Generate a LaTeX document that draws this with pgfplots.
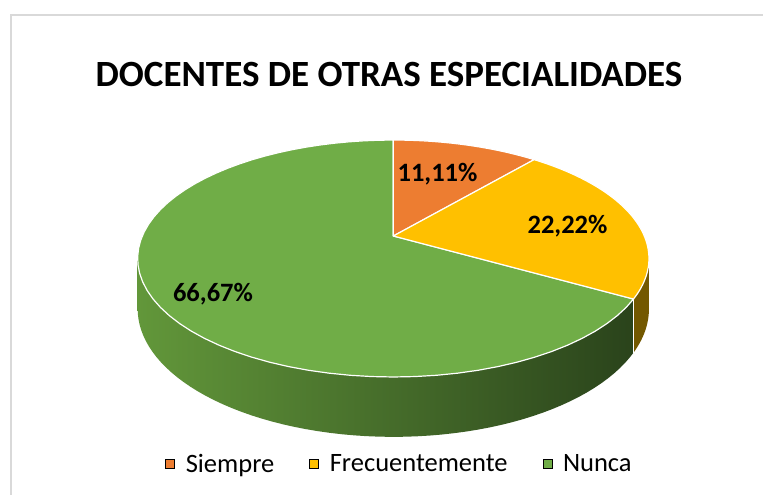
\documentclass[border=0pt]{standalone}
\usepackage{pgfplots}
\pgfplotsset{compat=1.18}
\usepackage{pgfplotstable}
\usepackage{fontspec}
\setmainfont{Carlito}
\definecolor{cOr}{HTML}{ED7D31}
\definecolor{cYe}{HTML}{FFC000}
\definecolor{cGr}{HTML}{70AD47}
\definecolor{cYeS}{HTML}{735800}
\definecolor{cGrL}{HTML}{62973A}
\definecolor{cGrM}{HTML}{466E2C}
\definecolor{cGrD}{HTML}{2A431B}
\definecolor{cFrame}{HTML}{D9D9D9}

\pgfplotstableread{
cat value
Siempre 11.11
Frecuentemente 22.22
Nunca 66.67
}\piedata
\pgfplotstablegetelem{0}{value}\of\piedata \let\vA\pgfplotsretval
\pgfplotstablegetelem{1}{value}\of\piedata \let\vB\pgfplotsretval
\pgfplotstablegetelem{2}{value}\of\piedata \let\vC\pgfplotsretval
\pgfmathsetmacro\aA{0}
\pgfmathsetmacro\aB{3.6*\vA}
\pgfmathsetmacro\aC{3.6*(\vA+\vB)}
\pgfmathsetmacro\aD{3.6*(\vA+\vB+\vC)}
\def\Xc{393.3}\def\Yc{259}\def\Bx{251}\def\Ay{114.2}\def\Kp{0.19}\def\Dz{48.5}
\pgfmathsetmacro\vis{acos(-\Kp)}
\pgfmathsetmacro\visB{360-\vis}

\begin{document}
\begin{tikzpicture}
\begin{axis}[
  width=763pt, height=495pt, scale only axis,
  xmin=0, xmax=763, ymin=0, ymax=495,
  hide axis, clip=false,
  declare function={
    rx(\h)=\Xc+\Bx*sin(\h)/(1+\Kp*cos(\h));
    ry(\h)=\Yc+\Ay*cos(\h)/(1+\Kp*cos(\h));
    dz(\h)=\Dz/(1+\Kp*cos(\h));
    sth(\a,\b,\t)=\a+(\b-\a)*min(max(\t,0),60)/60;
    secin(\t)=(\t>-0.5)*(\t<60.5);
    secx(\a,\b,\t)=(1-secin(\t))*\Xc+secin(\t)*rx(sth(\a,\b,\t));
    secy(\a,\b,\t)=(1-secin(\t))*\Yc+secin(\t)*ry(sth(\a,\b,\t));
    tth(\a,\b,\t)=(\t<60.5)*(\a+(\b-\a)*\t/60)+(\t>60.5)*(\a+(\b-\a)*(121-\t)/60);
    sidex(\a,\b,\t)=rx(tth(\a,\b,\t));
    sidey(\a,\b,\t)=ry(tth(\a,\b,\t))-(\t>60.5)*dz(tth(\a,\b,\t));
  },
  legend style={at={(axis cs:399.5,31)}, anchor=center, draw=none, fill=none,
    font=\fontsize{26.5}{30}\selectfont,
    /tikz/every odd column/.append style={column sep=9pt},
    /tikz/every even column/.append style={column sep=33pt},
    inner sep=0pt},
  legend columns=-1,
  legend image code/.code={\fill[#1] (0pt,-4.5pt) rectangle (9pt,4.5pt);},
]
\coordinate (BBa) at (axis cs:0,0);
\coordinate (BBb) at (axis cs:763,495);
% frame
\draw[cFrame, line width=2.2pt] (axis cs:11,0) -- (axis cs:11,480) -- (axis cs:764,480);
% sides
\addplot[forget plot, draw=none, fill=cYeS, domain=0:121, samples=122]
  ({sidex(\vis,\aC,x)},{sidey(\vis,\aC,x)});
\addplot[forget plot, draw=none, left color=cGrL, middle color=cGrM, right color=cGrD, domain=0:121, samples=122]
  ({sidex(\aC,\visB,x)},{sidey(\aC,\visB,x)});
\addplot[forget plot, white, line width=1pt, domain=0:1, samples=2]
  ({rx(\aC)},{ry(\aC)-x*dz(\aC)});
% top face sectors
\addplot[forget plot, fill=cGr, draw=white, line width=1.2pt, line join=round, line cap=round, domain=-1:61, samples=63]
  ({secx(\aC,\aD,x)},{secy(\aC,\aD,x)});
\addplot[forget plot, fill=cOr, draw=white, line width=1.2pt, line join=round, line cap=round, domain=-1:61, samples=63]
  ({secx(\aA,\aB,x)},{secy(\aA,\aB,x)});
\addplot[forget plot, fill=cYe, draw=white, line width=1.2pt, line join=round, line cap=round, domain=-1:61, samples=63]
  ({secx(\aB,\aC,x)},{secy(\aB,\aC,x)});
% labels
\node[anchor=base, font=\fontsize{26.5}{30}\selectfont\bfseries] at (axis cs:437.5,313) {11,11\%};
\node[anchor=base, font=\fontsize{26.5}{30}\selectfont\bfseries] at (axis cs:567.5,261) {22,22\%};
\node[anchor=base, font=\fontsize{26.5}{30}\selectfont\bfseries] at (axis cs:213,193) {66,67\%};
% title
\node[anchor=base, font=\fontsize{37}{44}\selectfont\bfseries] at (axis cs:389,408) {DOCENTES DE OTRAS ESPECIALIDADES};
% legend
\addlegendimage{fill=cOr}
\addlegendentry{Siempre}
\addlegendimage{fill=cYe}
\addlegendentry{Frecuentemente}
\addlegendimage{fill=cGr}
\addlegendentry{Nunca}
\end{axis}
\pgfresetboundingbox
\useasboundingbox (BBa) rectangle (BBb);
\end{tikzpicture}
\end{document}
